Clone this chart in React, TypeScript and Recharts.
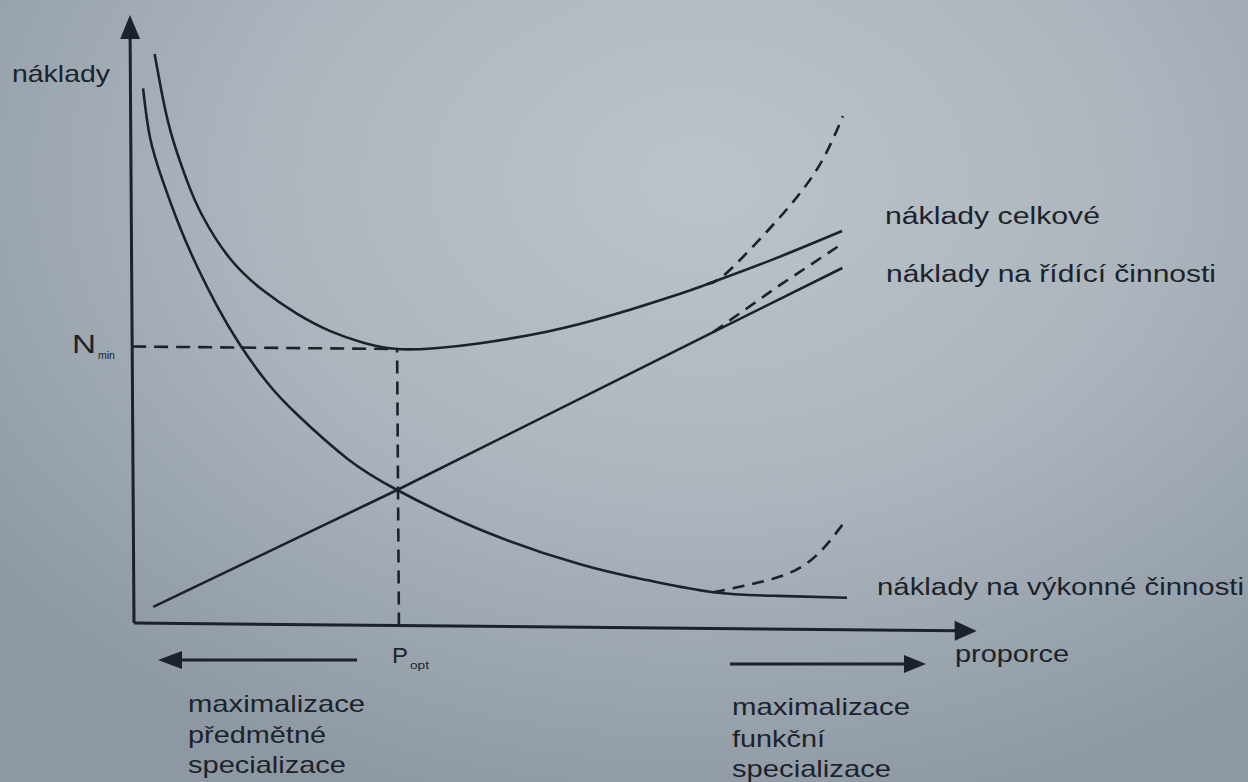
import {
  ComposedChart,
  Line,
  XAxis,
  YAxis,
  ReferenceLine,
  ReferenceDot,
} from "recharts";

// Cost curves over the proportion axis (abstract units, 0–100 on both axes)
const totalCost = [
  { x: 2.9, y: 94.1 },
  { x: 3.9, y: 86.4 },
  { x: 5.0, y: 80.0 },
  { x: 6.7, y: 73.0 },
  { x: 8.5, y: 67.3 },
  { x: 11.7, y: 60.4 },
  { x: 15.6, y: 55.2 },
  { x: 19.6, y: 51.4 },
  { x: 23.5, y: 48.6 },
  { x: 27.5, y: 46.7 },
  { x: 31.5, y: 45.7 },
  { x: 36.0, y: 45.9 },
  { x: 41.4, y: 46.8 },
  { x: 49.3, y: 48.8 },
  { x: 57.2, y: 51.7 },
  { x: 65.2, y: 55.3 },
  { x: 68.4, y: 56.9 },
  { x: 75.9, y: 60.9 },
  { x: 84.5, y: 65.9 },
];
const totalCostRising = [
  { x: 68.4, y: 56.9 },
  { x: 70.5, y: 58.5 },
  { x: 75.1, y: 65.0 },
  { x: 79.2, y: 71.5 },
  { x: 82.3, y: 77.8 },
  { x: 84.7, y: 84.9 },
];
const controlCost = [
  { x: 2.3, y: 2.7 },
  { x: 31.4, y: 22.4 },
  { x: 69.1, y: 49.0 },
  { x: 84.5, y: 59.8 },
];
const controlCostRising = [
  { x: 69.1, y: 49.0 },
  { x: 77.1, y: 56.9 },
  { x: 84.6, y: 63.9 },
];
const executiveCost = [
  { x: 1.5, y: 88.4 },
  { x: 2.3, y: 80.2 },
  { x: 3.8, y: 73.0 },
  { x: 5.8, y: 65.4 },
  { x: 7.8, y: 59.0 },
  { x: 10.1, y: 52.6 },
  { x: 12.8, y: 46.2 },
  { x: 16.0, y: 40.0 },
  { x: 19.5, y: 34.8 },
  { x: 25.5, y: 27.5 },
  { x: 31.4, y: 22.4 },
  { x: 41.2, y: 16.0 },
  { x: 53.1, y: 10.4 },
  { x: 61.0, y: 7.9 },
  { x: 68.9, y: 6.0 },
  { x: 76.5, y: 5.5 },
  { x: 84.8, y: 5.3 },
];
const executiveCostRising = [
  { x: 68.9, y: 6.0 },
  { x: 72.9, y: 7.2 },
  { x: 78.0, y: 9.3 },
  { x: 81.6, y: 12.8 },
  { x: 84.4, y: 17.5 },
];

const P_OPT = 31.5;
const N_MIN = 45.7;

const INK = "#1a222b";
const FONT = "'Liberation Sans', Arial, sans-serif";

const ArrowRight = ({ cx, cy }: any) => (
  <polygon
    points={`${cx},${cy} ${cx - 22},${cy - 10} ${cx - 22},${cy + 10}`}
    fill={INK}
  />
);

const ArrowUp = ({ cx, cy }: any) => (
  <polygon
    points={`${cx},${cy} ${cx - 10},${cy + 24} ${cx + 10},${cy + 24}`}
    fill={INK}
  />
);

function Labels() {
  const t = { fill: "#1c232b", fontFamily: FONT };
  return (
    <svg
      width={1248}
      height={782}
      style={{ position: "absolute", left: 0, top: 0, pointerEvents: "none" }}
    >
      <text x={12} y={82} fontSize={24} textLength={98} lengthAdjust="spacingAndGlyphs" {...t}>
        náklady
      </text>
      <text x={72} y={353} fontSize={26} textLength={24} lengthAdjust="spacingAndGlyphs" {...t}>
        N
      </text>
      <text x={98} y={359} fontSize={10} textLength={17} lengthAdjust="spacingAndGlyphs" {...t}>
        min
      </text>
      <text x={392} y={663} fontSize={22} textLength={16} lengthAdjust="spacingAndGlyphs" {...t}>
        P
      </text>
      <text x={410} y={669} fontSize={10} textLength={19} lengthAdjust="spacingAndGlyphs" {...t}>
        opt
      </text>

      <text x={885} y={224} fontSize={23} textLength={215} lengthAdjust="spacingAndGlyphs" {...t}>
        náklady celkové
      </text>
      <text x={886} y={282} fontSize={23} textLength={330} lengthAdjust="spacingAndGlyphs" {...t}>
        náklady na řídící činnosti
      </text>
      <text x={877} y={595} fontSize={23} textLength={367} lengthAdjust="spacingAndGlyphs" {...t}>
        náklady na výkonné činnosti
      </text>
      <text x={955} y={662} fontSize={23} textLength={114} lengthAdjust="spacingAndGlyphs" {...t}>
        proporce
      </text>

      {/* direction arrows under the axis */}
      <line x1={357} y1={660} x2={176} y2={660} stroke={INK} strokeWidth={3} />
      <polygon points="158,660 182,651 182,669" fill={INK} />
      <line x1={730} y1={664} x2={908} y2={664} stroke={INK} strokeWidth={3} />
      <polygon points="926,664 904,655 904,673" fill={INK} />

      <text x={188} y={712} fontSize={24} textLength={177} lengthAdjust="spacingAndGlyphs" {...t}>
        maximalizace
      </text>
      <text x={188} y={743} fontSize={24} textLength={138} lengthAdjust="spacingAndGlyphs" {...t}>
        předmětné
      </text>
      <text x={188} y={773} fontSize={24} textLength={158} lengthAdjust="spacingAndGlyphs" {...t}>
        specializace
      </text>

      <text x={732} y={715} fontSize={24} textLength={178} lengthAdjust="spacingAndGlyphs" {...t}>
        maximalizace
      </text>
      <text x={732} y={747} fontSize={24} textLength={93} lengthAdjust="spacingAndGlyphs" {...t}>
        funkční
      </text>
      <text x={732} y={777} fontSize={24} textLength={159} lengthAdjust="spacingAndGlyphs" {...t}>
        specializace
      </text>
    </svg>
  );
}

export default function App() {
  const curve = {
    type: "natural" as const,
    dataKey: "y",
    stroke: INK,
    strokeWidth: 2.6,
    dot: false,
    activeDot: false,
    isAnimationActive: false,
  };
  const dashed = { ...curve, strokeDasharray: "12 8" };

  return (
    <div
      style={{
        position: "absolute",
        left: 0,
        top: 0,
        width: 1248,
        height: 782,
        overflow: "hidden",
        background:
          "radial-gradient(ellipse 900px 650px at 700px 180px, #bcc4ca 0%, #acb5bd 50%, #8d98a3 100%)",
      }}
    >
      <div
        style={{
          position: "absolute",
          left: 0,
          top: 0,
          transform: "skewX(0.38deg) skewY(0.545deg)",
          transformOrigin: "134px 623px",
        }}
      >
        <ComposedChart
          width={1248}
          height={782}
          margin={{ top: 18, right: 273, bottom: 159, left: 134 }}
        >
          <XAxis type="number" dataKey="x" domain={[0, 100]} hide allowDataOverflow />
          <YAxis type="number" domain={[0, 100]} hide allowDataOverflow />

          {/* axes with arrowheads */}
          <ReferenceLine
            segment={[{ x: 0, y: 0 }, { x: 97.8, y: 0 }]}
            stroke={INK}
            strokeWidth={3}
            ifOverflow="visible"
          />
          <ReferenceLine
            segment={[{ x: 0, y: 0 }, { x: 0, y: 97 }]}
            stroke={INK}
            strokeWidth={3}
            ifOverflow="visible"
          />
          <ReferenceDot x={100.2} y={0} r={0} shape={ArrowRight} ifOverflow="visible" />
          <ReferenceDot x={0} y={100.5} r={0} shape={ArrowUp} ifOverflow="visible" />

          {/* minimum of total cost */}
          <ReferenceLine
            segment={[{ x: 0, y: N_MIN }, { x: P_OPT, y: N_MIN }]}
            stroke={INK}
            strokeWidth={2.6}
            strokeDasharray="14 8"
          />
          <ReferenceLine
            segment={[{ x: P_OPT, y: 0 }, { x: P_OPT, y: N_MIN }]}
            stroke={INK}
            strokeWidth={2.6}
            strokeDasharray="13 8"
          />

          <Line {...curve} data={totalCost} />
          <Line {...dashed} data={totalCostRising} />
          <Line {...curve} type="linear" data={controlCost} />
          <Line {...dashed} type="linear" data={controlCostRising} />
          <Line {...curve} data={executiveCost} />
          <Line {...dashed} data={executiveCostRising} />
        </ComposedChart>
      </div>
      <Labels />
    </div>
  );
}
